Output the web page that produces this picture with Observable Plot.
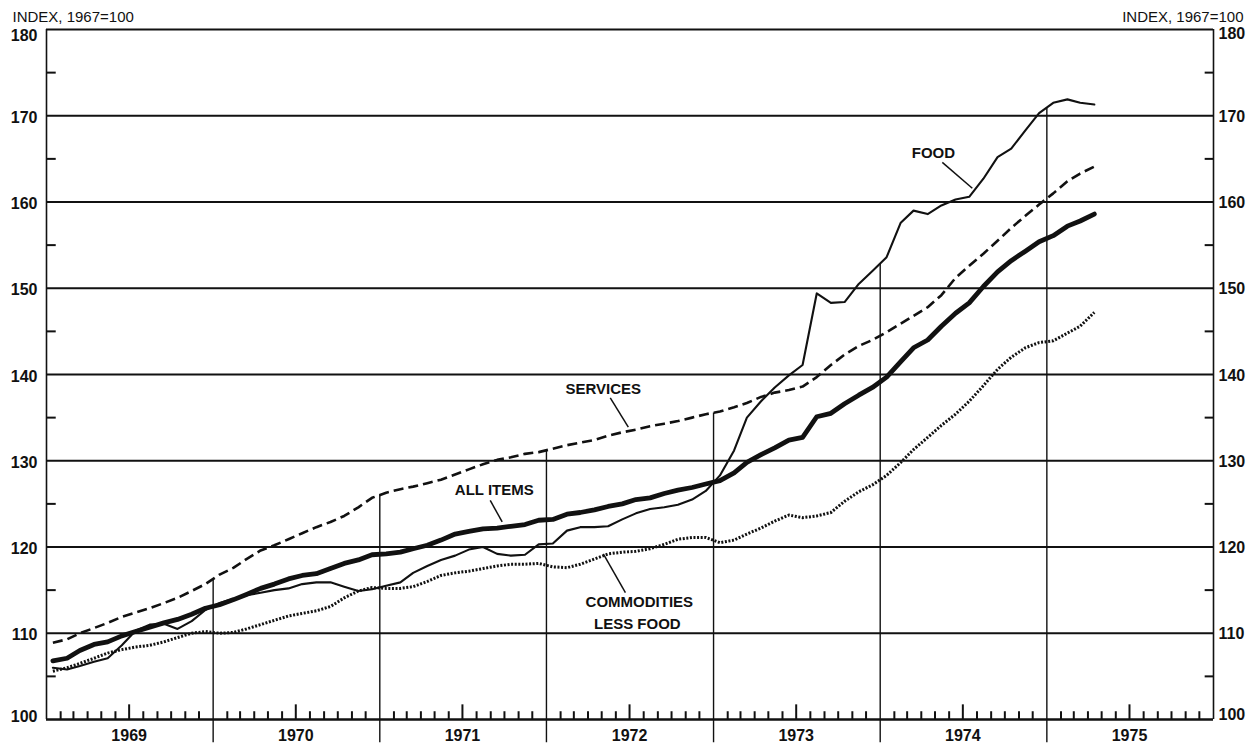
<!DOCTYPE html>
<html>
<head>
<meta charset="utf-8">
<script src="https://cdn.jsdelivr.net/npm/d3@7"></script>
<script src="https://cdn.jsdelivr.net/npm/@observablehq/plot@0.6"></script>
<style>
  html, body { margin: 0; padding: 0; background: #fff; }
  #chart svg { display: block; }
</style>
</head>
<body>
<div id="chart"></div>
<script>
// ---------------- DATA (monthly, Jan 1969 – Apr 1975; index 1967=100) ----------------
const startYear = 1969;
const yearLabels = ["1969", "1970", "1971", "1972", "1973", "1974", "1975"];
const yTickLabels = [100, 110, 120, 130, 140, 150, 160, 170, 180];
const yMinorTicks = [105, 115, 125, 135, 145, 155, 165, 175];
const headerLabel = "INDEX, 1967=100";

const allItems = [
  106.8, 107.1, 108.0, 108.7, 109.0, 109.7, 110.2, 110.7, 111.2, 111.6, 112.2, 112.9,
  113.3, 113.9, 114.5, 115.2, 115.7, 116.3, 116.7, 116.9, 117.5, 118.1, 118.5, 119.1,
  119.2, 119.4, 119.8, 120.2, 120.8, 121.5, 121.8, 122.1, 122.2, 122.4, 122.6, 123.1,
  123.2, 123.8, 124.0, 124.3, 124.7, 125.0, 125.5, 125.7, 126.2, 126.6, 126.9, 127.3,
  127.7, 128.6, 129.8, 130.7, 131.5, 132.4, 132.7, 135.1, 135.5, 136.6, 137.6, 138.5,
  139.7, 141.5, 143.1, 144.0, 145.6, 147.1, 148.3, 150.2, 151.9, 153.2, 154.3, 155.4,
  156.1, 157.2, 157.8, 158.6
];
const food = [
  106.0, 105.8, 106.2, 106.7, 107.1, 108.6, 110.3, 111.0, 111.1, 110.5, 111.4, 112.7,
  113.5, 114.0, 114.4, 114.7, 115.0, 115.2, 115.7, 115.9, 115.9, 115.4, 114.9, 115.1,
  115.5, 115.9, 117.0, 117.8, 118.5, 119.0, 119.7, 120.0, 119.2, 119.0, 119.1, 120.3,
  120.4, 121.9, 122.3, 122.3, 122.4, 123.2, 123.9, 124.4, 124.6, 124.9, 125.5, 126.5,
  128.3, 131.2, 135.0, 136.9, 138.5, 139.9, 141.1, 149.4, 148.3, 148.4, 150.5, 152.0,
  153.6, 157.6, 159.0, 158.6, 159.6, 160.3, 160.6, 162.7, 165.2, 166.2, 168.3, 170.3,
  171.5, 171.9, 171.5, 171.3
];
const services = [
  108.9, 109.3, 110.0, 110.6, 111.2, 111.9, 112.4, 112.9, 113.5, 114.1, 114.9, 115.7,
  116.8, 117.6, 118.6, 119.6, 120.2, 120.9, 121.6, 122.3, 122.9, 123.6, 124.6, 125.7,
  126.3, 126.7, 127.0, 127.4, 127.8, 128.4, 129.0, 129.6, 130.1, 130.4, 130.8, 131.0,
  131.4, 131.8, 132.1, 132.4, 132.9, 133.3, 133.6, 134.0, 134.3, 134.6, 135.0, 135.4,
  135.7, 136.2, 136.7, 137.4, 137.9, 138.2, 138.6, 139.7, 141.1, 142.3, 143.3, 144.0,
  144.9, 145.9, 146.8, 147.8, 149.2, 151.2, 152.6, 154.0, 155.5, 157.0, 158.4, 159.7,
  161.0, 162.4, 163.3, 164.1
];
const commoditiesLessFood = [
  105.6, 106.0, 106.5, 107.1, 107.7, 108.1, 108.4, 108.6, 109.0, 109.5, 110.0, 110.2,
  110.0, 110.1, 110.5, 111.0, 111.5, 112.0, 112.3, 112.6, 113.1, 114.1, 114.9, 115.3,
  115.2, 115.2, 115.4, 116.0, 116.7, 117.0, 117.2, 117.5, 117.8, 118.0, 118.0, 118.1,
  117.7, 117.6, 118.0, 118.6, 119.2, 119.4, 119.5, 119.8, 120.3, 120.9, 121.1, 121.1,
  120.5, 120.8, 121.5, 122.2, 123.0, 123.7, 123.4, 123.6, 124.0, 125.3, 126.4, 127.2,
  128.3, 129.8, 131.3, 132.7, 134.1, 135.4, 136.9, 138.7, 140.6, 142.0, 143.1, 143.7,
  143.9, 144.8, 145.6, 147.2
];

// ---------------- helpers ----------------
const t0 = Date.UTC(startYear, 0, 1);
const t1 = Date.UTC(startYear + yearLabels.length, 0, 1);
const totalMonths = 12 * yearLabels.length;
const fm = m => new Date(t0 + (m / totalMonths) * (t1 - t0)); // fractional month index -> date
const toRows = arr => arr.map((v, i) => ({ date: new Date(Date.UTC(startYear, i, 15)), value: v }));

const seriesList = [allItems, food, services, commoditiesLessFood];

// year dividers rise from below the axis up to the highest series at that date
const dividers = yearLabels.slice(1).map((y, k) => {
  const M = 12 * (k + 1);
  const top = Math.max(...seriesList.map(s => (s[M - 1] + s[M]) / 2));
  return { date: new Date(Date.UTC(+y, 0, 1)), top };
});

// month ticks on the bottom axis (taller at mid-year)
const monthTicks = [];
yearLabels.forEach(y => {
  for (let k = 1; k < 12; k++) monthTicks.push({ date: new Date(Date.UTC(+y, k, 1)), tall: k === 6 });
});

const font = "'Liberation Sans', Arial, Helvetica, sans-serif";
const ink = "#111";

const annotations = [
  { text: "FOOD", m: 63.84, v: 165.7 },
  { text: "SERVICES", m: 40.08, v: 138.3 },
  { text: "ALL ITEMS", m: 32.23, v: 126.6 },
  { text: "COMMODITIES", m: 42.67, v: 113.6 },
  { text: "LESS FOOD", m: 42.53, v: 111.1 }
];
const leaders = [
  { m1: 64.48, v1: 164.6, m2: 66.64, v2: 161.6 },
  { m1: 40.58, v1: 137.3, m2: 41.88, v2: 133.9 },
  { m1: 31.94, v1: 125.4, m2: 32.80, v2: 122.9 },
  { m1: 41.67, v1: 114.7, m2: 40.08, v2: 119.2 }
];

const chart = Plot.plot({
  width: 1254,
  height: 744,
  marginLeft: 46,
  marginRight: 41,
  marginTop: 29,
  marginBottom: 25,
  x: { type: "utc", domain: [new Date(t0), new Date(t1)], axis: null },
  y: { domain: [100, 180], axis: null },
  style: { fontFamily: font, background: "#fff", color: ink, overflow: "visible" },
  marks: [
    // horizontal grid and frame
    Plot.ruleY(yTickLabels.filter(d => d !== 100), { stroke: ink, strokeWidth: 2 }),
    Plot.ruleY([100], { stroke: ink, strokeWidth: 2.6 }),
    Plot.ruleX([new Date(t0), new Date(t1)], { y1: 100, y2: 180, stroke: ink, strokeWidth: 1.6 }),
    // minor y ticks on both sides
    Plot.ruleY(yMinorTicks, { x1: fm(0), x2: fm(0.7), stroke: ink, strokeWidth: 2 }),
    Plot.ruleY(yMinorTicks, { x1: fm(totalMonths - 0.6), x2: fm(totalMonths), stroke: ink, strokeWidth: 2 }),
    // month ticks
    Plot.ruleX(monthTicks, { x: "date", y1: 100, y2: d => d.tall ? 101.7 : 100.9, stroke: ink, strokeWidth: 2 }),
    // year dividers
    Plot.ruleX(dividers, { x: "date", y1: 97.3, y2: "top", stroke: ink, strokeWidth: 1.4 }),
    // series
    Plot.line(toRows(commoditiesLessFood), { x: "date", y: "value", stroke: ink, strokeWidth: 3, strokeDasharray: "2,1.6", strokeLinecap: "butt" }),
    Plot.line(toRows(services), { x: "date", y: "value", stroke: ink, strokeWidth: 2.6, strokeDasharray: "10,5", strokeLinecap: "butt" }),
    Plot.line(toRows(food), { x: "date", y: "value", stroke: ink, strokeWidth: 2.1 }),
    Plot.line(toRows(allItems), { x: "date", y: "value", stroke: ink, strokeWidth: 4.8 }),
    // year labels
    Plot.text(yearLabels, { x: d => new Date(Date.UTC(+d, 6, 1)), y: 100, dy: 16, text: d => d, fontSize: 16, fontWeight: "bold", fill: ink }),
    // left y labels
    Plot.text(yTickLabels.filter(d => d > 100 && d < 180), { x: fm(0), y: d => d, text: d => String(d), dx: -9, dy: 2, textAnchor: "end", fontSize: 16, fontWeight: "bold", fill: ink }),
    Plot.text([180], { x: fm(0), y: d => d, text: d => String(d), dx: -9, dy: 6, textAnchor: "end", fontSize: 16, fontWeight: "bold", fill: ink }),
    Plot.text([100], { x: fm(0), y: d => d, text: d => String(d), dx: -9, dy: -3, textAnchor: "end", fontSize: 16, fontWeight: "bold", fill: ink }),
    // right y labels
    Plot.text(yTickLabels.filter(d => d > 100 && d < 180), { x: fm(totalMonths), y: d => d, text: d => String(d), dx: 5, dy: 1, textAnchor: "start", fontSize: 16, fontWeight: "bold", fill: ink }),
    Plot.text([180], { x: fm(totalMonths), y: d => d, text: d => String(d), dx: 5, dy: 4, textAnchor: "start", fontSize: 16, fontWeight: "bold", fill: ink }),
    Plot.text([100], { x: fm(totalMonths), y: d => d, text: d => String(d), dx: 5, dy: -5, textAnchor: "start", fontSize: 16, fontWeight: "bold", fill: ink }),
    // header labels
    Plot.text([headerLabel], { frameAnchor: "top-left", text: d => d, dx: -34, dy: -8, lineAnchor: "bottom", textAnchor: "start", fontSize: 15, fill: ink }),
    Plot.text([headerLabel], { frameAnchor: "top-right", text: d => d, dx: 30, dy: -8, lineAnchor: "bottom", textAnchor: "end", fontSize: 15, fill: ink }),
    // annotations
    Plot.link(leaders, { x1: d => fm(d.m1), y1: "v1", x2: d => fm(d.m2), y2: "v2", stroke: ink, strokeWidth: 1.5 }),
    Plot.text(annotations, { x: d => fm(d.m), y: "v", text: "text", fontSize: 15, fontWeight: "bold", fill: ink })
  ]
});

document.getElementById("chart").appendChild(chart);
</script>
</body>
</html>
